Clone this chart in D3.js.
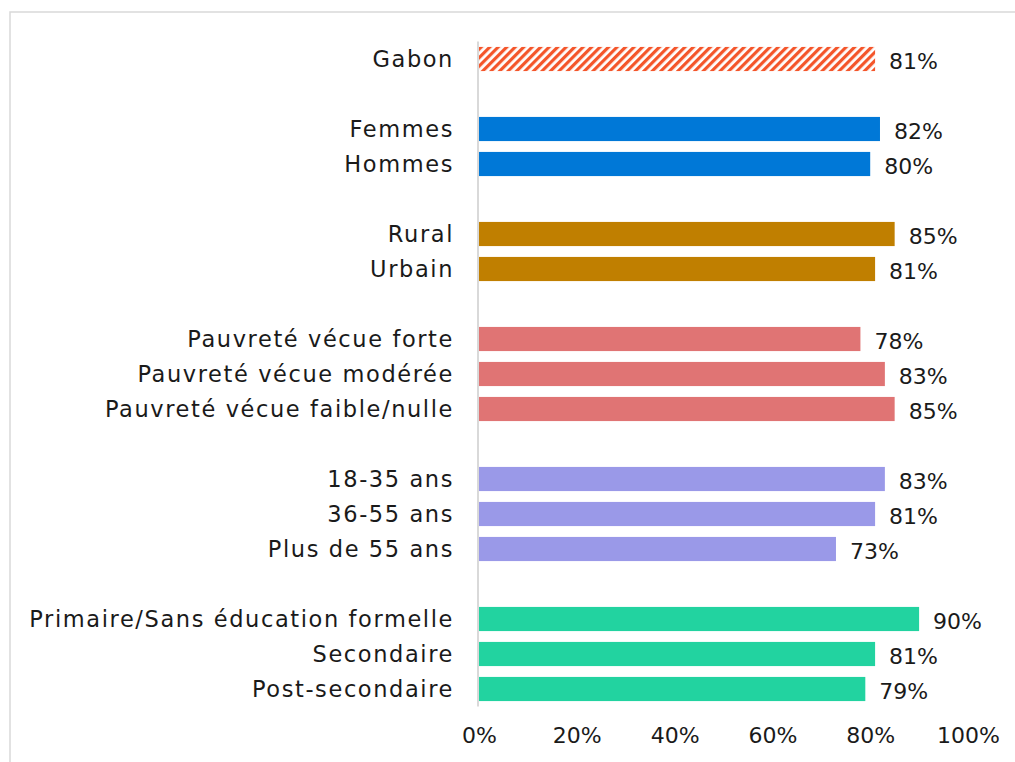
<!DOCTYPE html>
<html lang="fr">
<head>
  <meta charset="UTF-8">
  <title>Gabon</title>
  <script src="https://d3js.org/d3.v7.min.js"></script>
  <style>
    body { margin: 0; background: #fff; }
    svg { display: block; }
    text { font-family: "DejaVu Sans", sans-serif; fill: #1a1a1a; }
  </style>
</head>
<body>
  <svg id="chart" width="1015" height="762"></svg>
  <script>
    // categories (null = blank spacer row between groups)
    const categories = [
      "Gabon", null,
      "Femmes", "Hommes", null,
      "Rural", "Urbain", null,
      "Pauvreté vécue forte", "Pauvreté vécue modérée", "Pauvreté vécue faible/nulle", null,
      "18-35 ans", "36-55 ans", "Plus de 55 ans", null,
      "Primaire/Sans éducation formelle", "Secondaire", "Post-secondaire"
    ];
    const values = [
      81, null,
      82, 80, null,
      85, 81, null,
      78, 83, 85, null,
      83, 81, 73, null,
      90, 81, 79
    ];
    const groups = [
      0, null,
      1, 1, null,
      2, 2, null,
      3, 3, 3, null,
      4, 4, 4, null,
      5, 5, 5
    ];
    const groupColors = ["url(#hatch)", "#0078d7", "#c07f00", "#e07474", "#9a99e8", "#22d3a0"];
    const xTicks = [0, 20, 40, 60, 80, 100];

    const svg = d3.select("#chart");

    const defs = svg.append("defs");
    const pat = defs.append("pattern")
      .attr("id", "hatch")
      .attr("patternUnits", "userSpaceOnUse")
      .attr("width", 6).attr("height", 6)
      .attr("patternTransform", "rotate(45)");
    pat.append("rect").attr("width", 6).attr("height", 6).attr("fill", "#fff");
    pat.append("rect").attr("width", 3.2).attr("height", 6).attr("fill", "#f4552a");

    // outer frame
    svg.append("rect")
      .attr("x", 10).attr("y", 12)
      .attr("width", 1100).attr("height", 900)
      .attr("fill", "none")
      .attr("stroke", "#d9d9d9")
      .attr("stroke-width", 1.5);

    const rows = categories.map((c, i) => ({ key: "r" + i, label: c, value: values[i], group: groups[i] }));

    const x = d3.scaleLinear().domain([0, 100]).range([479, 968]);
    const y = d3.scaleBand()
      .domain(rows.map(d => d.key))
      .range([41.5, 706.5])
      .paddingInner(0.31)
      .paddingOuter(0.155);

    const data = rows.filter(d => d.label !== null);

    // bars
    svg.append("g").selectAll("rect")
      .data(data)
      .join("rect")
      .attr("x", x(0))
      .attr("y", d => y(d.key))
      .attr("width", d => x(d.value) - x(0))
      .attr("height", y.bandwidth())
      .attr("fill", d => groupColors[d.group]);

    // vertical axis line
    svg.append("line")
      .attr("x1", x(0) - 1).attr("x2", x(0) - 1)
      .attr("y1", 41.5).attr("y2", 706.5)
      .attr("stroke", "#d9d9d9")
      .attr("stroke-width", 2);

    // category labels
    svg.append("g").selectAll("text")
      .data(data)
      .join("text")
      .attr("x", 454)
      .attr("y", d => y(d.key) + y.bandwidth() / 2)
      .attr("dy", "0.36em")
      .attr("text-anchor", "end")
      .attr("font-size", 22.5)
      .attr("letter-spacing", 1.6)
      .text(d => d.label);

    // value labels
    svg.append("g").selectAll("text")
      .data(data)
      .join("text")
      .attr("x", d => x(d.value) + 14)
      .attr("y", d => y(d.key) + y.bandwidth() / 2 + 2)
      .attr("dy", "0.36em")
      .attr("font-size", 22)
      .text(d => d.value + "%");

    // x axis
    const xAxis = d3.axisBottom(x)
      .tickValues(xTicks)
      .tickFormat(d => d + "%")
      .tickSize(0)
      .tickPadding(0);
    const gx = svg.append("g")
      .attr("transform", "translate(0,727)")
      .call(xAxis);
    gx.select(".domain").remove();
    gx.selectAll("text")
      .attr("font-size", 22)
      .attr("font-family", "DejaVu Sans, sans-serif")
      .attr("fill", "#1a1a1a");
  </script>
</body>
</html>
